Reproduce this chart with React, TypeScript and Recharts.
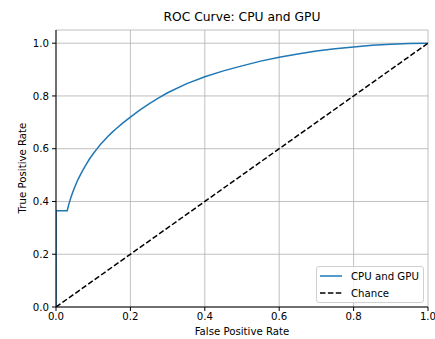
import { LineChart, Line, XAxis, YAxis, CartesianGrid } from 'recharts'

// ROC points
const fprValues = [
  0, 0, 0.03, 0.035, 0.04, 0.045, 0.05, 0.055, 0.06, 0.07, 0.08, 0.09, 0.1,
  0.11, 0.12, 0.13, 0.14, 0.15, 0.16, 0.18, 0.2, 0.225, 0.25, 0.275, 0.3, 0.35,
  0.4, 0.45, 0.5, 0.55, 0.6, 0.65, 0.7, 0.75, 0.8, 0.85, 0.9, 0.95, 1.0,
]
const tprValues = [
  0, 0.365, 0.365, 0.392, 0.415, 0.435, 0.453, 0.47, 0.486, 0.513, 0.538, 0.561,
  0.581, 0.5995, 0.6165, 0.632, 0.647, 0.661, 0.674, 0.698, 0.72, 0.746, 0.77,
  0.792, 0.812, 0.846, 0.873, 0.895, 0.914, 0.932, 0.947, 0.959, 0.97, 0.979,
  0.986, 0.992, 0.996, 0.999, 1.0,
]
const chanceFpr = [0, 1]
const chanceTpr = [0, 1]
const xTicks = [0, 0.2, 0.4, 0.6, 0.8, 1.0]
const yTicks = [0, 0.2, 0.4, 0.6, 0.8, 1.0]

const rocData = fprValues.map((fpr, i) => ({ fpr, tpr: tprValues[i] }))
const chanceData = chanceFpr.map((fpr, i) => ({ fpr, tpr: chanceTpr[i] }))

const FONT = '"DejaVu Sans", sans-serif'
const tickStyle = { fontSize: 10.2, fill: '#000' }

export default function App() {
  return (
    <div style={{ position: 'relative', width: 435, height: 339, fontFamily: FONT, background: '#fff' }}>
      <style>{'body { margin: 0; }'}</style>
      <LineChart width={435} height={339} margin={{ top: 30, right: 7, left: 0, bottom: 0 }}>
        <CartesianGrid stroke="#b0b0b0" strokeWidth={0.8} />
        <XAxis
          dataKey="fpr"
          type="number"
          domain={[0, 1]}
          ticks={xTicks}
          tickFormatter={(v: number) => v.toFixed(1)}
          tick={tickStyle}
          tickSize={4}
          tickMargin={2}
          height={32}
          stroke="#000"
          allowDataOverflow
        />
        <XAxis xAxisId="top" orientation="top" type="number" domain={[0, 1]} tick={false} tickLine={false} height={0} stroke="#000" />
        <YAxis
          type="number"
          domain={[0, 1.05]}
          ticks={yTicks}
          tickFormatter={(v: number) => v.toFixed(1)}
          tick={tickStyle}
          tickSize={4}
          tickMargin={3}
          width={56}
          stroke="#000"
          allowDataOverflow
        />
        <YAxis yAxisId="right" orientation="right" type="number" domain={[0, 1]} tick={false} tickLine={false} width={0} stroke="#000" />
        <Line
          data={rocData}
          dataKey="tpr"
          type="linear"
          stroke="#1f77b4"
          strokeWidth={1.5}
          dot={false}
          isAnimationActive={false}
        />
        <Line
          data={chanceData}
          dataKey="tpr"
          type="linear"
          stroke="#000"
          strokeWidth={1.5}
          strokeDasharray="5.5 2.4"
          dot={false}
          isAnimationActive={false}
        />
      </LineChart>

      <div style={{ position: 'absolute', left: 0, width: 484, top: 10, textAlign: 'center', fontSize: 12.3 }}>
        ROC Curve: CPU and GPU
      </div>
      <div style={{ position: 'absolute', left: 0, width: 484, top: 326, textAlign: 'center', fontSize: 10.2 }}>
        False Positive Rate
      </div>
      <div
        style={{
          position: 'absolute',
          left: 22,
          top: 168,
          fontSize: 10.2,
          whiteSpace: 'nowrap',
          transform: 'translate(-50%, -50%) rotate(-90deg)',
        }}
      >
        True Positive Rate
      </div>

      <div
        style={{
          position: 'absolute',
          left: 316,
          top: 266,
          width: 108,
          height: 37,
          boxSizing: 'border-box',
          border: '1px solid #d0d0d0',
          borderRadius: 3,
          background: 'rgba(255,255,255,0.8)',
          fontSize: 10.2,
        }}
      >
        <div style={{ position: 'absolute', left: 2, top: 2, display: 'flex', alignItems: 'center', height: 14 }}>
          <svg width={24} height={4}>
            <line x1={1} y1={2} x2={23} y2={2} stroke="#1f77b4" strokeWidth={1.5} />
          </svg>
          <span style={{ marginLeft: 8 }}>CPU and GPU</span>
        </div>
        <div style={{ position: 'absolute', left: 2, top: 19, display: 'flex', alignItems: 'center', height: 14 }}>
          <svg width={24} height={4}>
            <line x1={1} y1={2} x2={23} y2={2} stroke="#000" strokeWidth={1.5} strokeDasharray="5.5 2.4" />
          </svg>
          <span style={{ marginLeft: 8 }}>Chance</span>
        </div>
      </div>
    </div>
  )
}
